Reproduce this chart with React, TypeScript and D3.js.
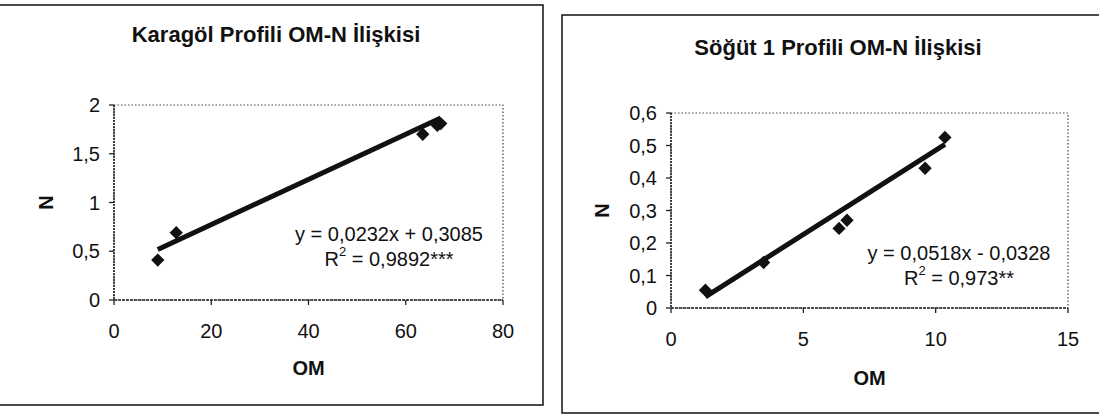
import React from 'react';
import * as d3 from 'd3';

// Karagöl profile
const karagolTitle = 'Karagöl Profili OM-N İlişkisi';
const karagolOM = [9.0, 12.8, 63.5, 66.5, 67.2];
const karagolN = [0.41, 0.69, 1.70, 1.79, 1.81];
const karagolFit = [0.0232, 0.3085];
const karagolXTicks = [0, 20, 40, 60, 80];
const karagolYTicks = [0, 0.5, 1, 1.5, 2];
const karagolEq = ['y = 0,0232x + 0,3085', '0,9892***'];

// Söğüt 1 profile
const sogutTitle = 'Söğüt 1 Profili OM-N İlişkisi';
const sogutOM = [1.3, 3.5, 6.35, 6.65, 9.6, 10.35];
const sogutN = [0.055, 0.14, 0.245, 0.27, 0.43, 0.525];
const sogutFit = [0.0518, -0.0328];
const sogutXTicks = [0, 5, 10, 15];
const sogutYTicks = [0, 0.1, 0.2, 0.3, 0.4, 0.5, 0.6];
const sogutEq = ['y = 0,0518x - 0,0328', '0,973**'];

const FONT = '"Liberation Sans", Arial, sans-serif';
const INK = '#111';

const fmt = (v: number) => String(v).replace('.', ',');

type PanelProps = {
  title: string;
  om: number[];
  n: number[];
  fit: number[];
  xTicks: number[];
  yTicks: number[];
  eq: string[];
  plot: { left: number; right: number; top: number; bottom: number };
  titleY: number;
  titleX: number;
  eqX: number;
  eqY: number;
  nX: number;
  omY: number;
};

function Panel(p: PanelProps) {
  const x = d3.scaleLinear()
    .domain([p.xTicks[0], p.xTicks[p.xTicks.length - 1]])
    .range([p.plot.left, p.plot.right]);
  const y = d3.scaleLinear()
    .domain([p.yTicks[0], p.yTicks[p.yTicks.length - 1]])
    .range([p.plot.bottom, p.plot.top]);

  const [a, b] = p.fit;
  const x0 = d3.min(p.om) as number;
  const x1 = d3.max(p.om) as number;
  const line = d3.line<number>().x(d => x(d)).y(d => y(a * d + b));
  const diamond = d3.symbol(d3.symbolSquare, 88)() as string;

  return (
    <g>
      <text x={p.titleX} y={p.titleY} textAnchor="middle" dominantBaseline="central"
        fontFamily={FONT} fontWeight="bold" fontSize={22} fill={INK}>{p.title}</text>

      {/* plot frame */}
      <rect x={p.plot.left} y={p.plot.top} width={p.plot.right - p.plot.left}
        height={p.plot.bottom - p.plot.top} fill="none" stroke="#444"
        strokeWidth={1.2} strokeDasharray="1.5,2" />
      <line x1={p.plot.left} x2={p.plot.left} y1={p.plot.top} y2={p.plot.bottom}
        stroke="#222" strokeWidth={1.6} strokeDasharray="2,1" />
      <line x1={p.plot.left} x2={p.plot.right} y1={p.plot.bottom} y2={p.plot.bottom}
        stroke="#222" strokeWidth={1.6} strokeDasharray="3,1" />

      {p.yTicks.map(t => (
        <g key={'y' + t}>
          <line x1={p.plot.left - 5} x2={p.plot.left} y1={y(t)} y2={y(t)} stroke="#222" strokeWidth={1.3} />
          <text x={p.plot.left - 14} y={y(t)} textAnchor="end" dominantBaseline="central"
            fontFamily={FONT} fontSize={20} fill={INK}>{fmt(t)}</text>
        </g>
      ))}
      {p.xTicks.map(t => (
        <g key={'x' + t}>
          <line x1={x(t)} x2={x(t)} y1={p.plot.bottom} y2={p.plot.bottom + 5} stroke="#222" strokeWidth={1.3} />
          <text x={x(t)} y={p.plot.bottom + 31} textAnchor="middle" dominantBaseline="central"
            fontFamily={FONT} fontSize={20} fill={INK}>{t}</text>
        </g>
      ))}

      <text x={(p.plot.left + p.plot.right) / 2} y={p.omY} textAnchor="middle" dominantBaseline="central"
        fontFamily={FONT} fontWeight="bold" fontSize={20} fill={INK}>OM</text>
      <text transform={`translate(${p.nX},${(p.plot.top + p.plot.bottom) / 2}) rotate(-90)`}
        textAnchor="middle" dominantBaseline="central"
        fontFamily={FONT} fontWeight="bold" fontSize={20} fill={INK}>N</text>

      {p.om.map((v, i) => (
        <path key={i} d={diamond} fill={INK}
          transform={`translate(${x(v)},${y(p.n[i])}) rotate(45)`} />
      ))}
      <path d={line([x0, x1]) as string} fill="none" stroke={INK} strokeWidth={5} />

      <text x={p.eqX} y={p.eqY} textAnchor="middle" dominantBaseline="central"
        fontFamily={FONT} fontSize={20} fill={INK}>{p.eq[0]}</text>
      <text x={p.eqX} y={p.eqY + 25} textAnchor="middle" dominantBaseline="central"
        fontFamily={FONT} fontSize={20} fill={INK}>
        R<tspan fontSize={13} dy={-8}>2</tspan><tspan dy={8}>{' = ' + p.eq[1]}</tspan>
      </text>
    </g>
  );
}

export default function App() {
  return (
    <svg width={1099} height={418} style={{ position: 'absolute', left: 0, top: 0, background: '#fff' }}>
      {/* outer boxes */}
      <path d="M0,5 H543 V405 H0" fill="none" stroke={INK} strokeWidth={1.5} />
      <path d="M1099,15 H562 V413 H1099" fill="none" stroke={INK} strokeWidth={1.5} />

      <Panel title={karagolTitle} om={karagolOM} n={karagolN} fit={karagolFit}
        xTicks={karagolXTicks} yTicks={karagolYTicks} eq={karagolEq}
        plot={{ left: 114, right: 503, top: 105, bottom: 300 }}
        titleX={276} titleY={34} eqX={389} eqY={234} nX={46} omY={368} />
      <Panel title={sogutTitle} om={sogutOM} n={sogutN} fit={sogutFit}
        xTicks={sogutXTicks} yTicks={sogutYTicks} eq={sogutEq}
        plot={{ left: 671, right: 1068, top: 113, bottom: 308 }}
        titleX={838} titleY={47} eqX={959} eqY={253} nX={602} omY={378} />
    </svg>
  );
}
